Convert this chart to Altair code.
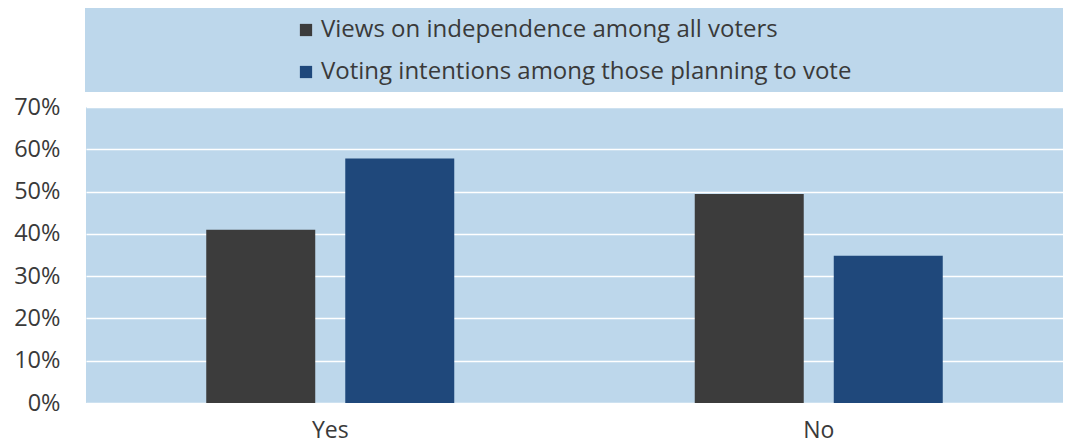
import altair as alt
import pandas as pd

categories = ["Yes", "No"]
series = ["Views on independence among all voters",
          "Voting intentions among those planning to vote"]
views_all = [41.0, 49.4]
intentions = [57.8, 34.8]
y_ticks = [0, 10, 20, 30, 40, 50, 60, 70]

rows = []
for i, c in enumerate(categories):
    rows.append({"answer": c, "series": series[0], "value": views_all[i]})
    rows.append({"answer": c, "series": series[1], "value": intentions[i]})
df = pd.DataFrame(rows)

BG = "#BDD7EB"
TXT = "#3A3A3A"
FONT = "Open Sans"

legend_bg = alt.Chart(pd.DataFrame({"k": [0]})).mark_rect(color=BG).encode(
    x=alt.value(-1), x2=alt.value(977), y=alt.value(-99), y2=alt.value(-15)
)

bars = alt.Chart(df).mark_bar().encode(
    x=alt.X("answer:N", sort=categories,
            scale=alt.Scale(paddingInner=0, paddingOuter=0),
            axis=alt.Axis(title=None, labelAngle=0, ticks=False, domain=False,
                          labelFontSize=23, labelColor=TXT, labelFont=FONT,
                          labelPadding=16)),
    xOffset=alt.XOffset("series:N", sort=series,
                        scale=alt.Scale(paddingInner=0.216, paddingOuter=0.865)),
    y=alt.Y("value:Q", scale=alt.Scale(domain=[0, 70], nice=False),
            axis=alt.Axis(title=None, values=y_ticks, labelExpr="datum.value + '%'",
                          ticks=False, domain=False, grid=True, gridColor="white",
                          gridWidth=1.5, labelFontSize=23.5, labelColor=TXT,
                          labelFont=FONT, labelPadding=26)),
    color=alt.Color("series:N", sort=series,
                    scale=alt.Scale(domain=series, range=["#3C3C3C", "#1F487B"]),
                    legend=alt.Legend(title=None, orient="none", legendX=208, legendY=-89,
                                      direction="vertical", symbolType="square",
                                      symbolSize=150, symbolStrokeWidth=0,
                                      labelFontSize=24, labelColor=TXT, labelFont=FONT,
                                      labelOffset=3, rowPadding=18, labelLimit=800)),
)

chart = alt.layer(legend_bg, bars).properties(
    width=977, height=296,
    autosize=alt.AutoSizeParams(type="none"),
    padding={"left": 86, "top": 107, "right": 6, "bottom": 43},
    background="white",
).configure_view(fill=BG, stroke=None)

chart.save("out.html", embed_options={"renderer": "svg", "actions": False})
